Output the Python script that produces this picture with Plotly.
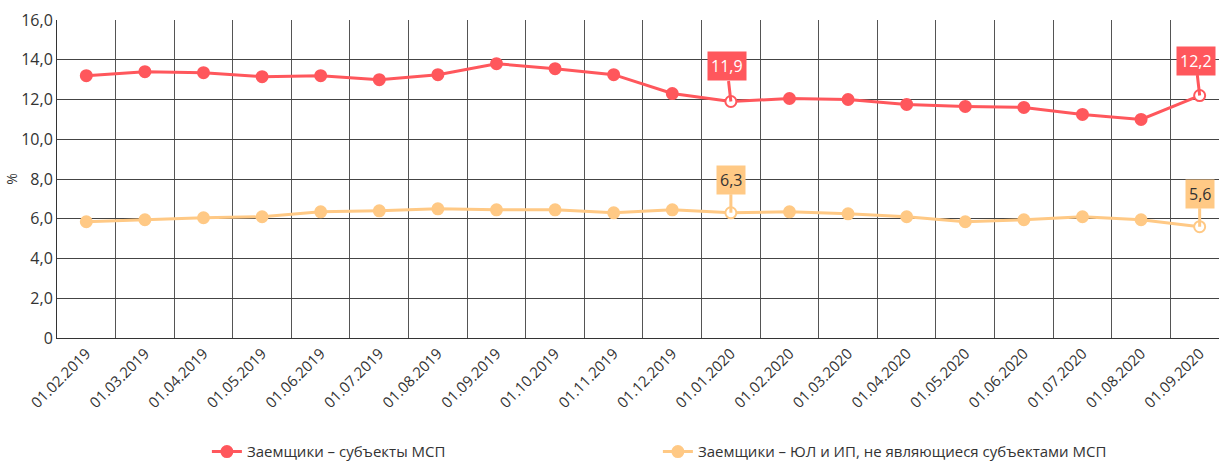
import plotly.graph_objects as go

dates = ["01.02.2019", "01.03.2019", "01.04.2019", "01.05.2019", "01.06.2019", "01.07.2019",
         "01.08.2019", "01.09.2019", "01.10.2019", "01.11.2019", "01.12.2019", "01.01.2020",
         "01.02.2020", "01.03.2020", "01.04.2020", "01.05.2020", "01.06.2020", "01.07.2020",
         "01.08.2020", "01.09.2020"]
msp = [13.2, 13.4, 13.35, 13.15, 13.2, 13.0, 13.25, 13.8, 13.55, 13.25, 12.3, 11.9,
       12.05, 12.0, 11.75, 11.65, 11.6, 11.25, 11.0, 12.2]
non_msp = [5.85, 5.95, 6.05, 6.1, 6.35, 6.4, 6.5, 6.45, 6.45, 6.3, 6.45, 6.3,
           6.35, 6.25, 6.1, 5.85, 5.95, 6.1, 5.95, 5.6]
labelled = [11, 19]
name_msp = "Заемщики – субъекты МСП"
name_non = "Заемщики – ЮЛ и ИП, не являющиеся субъектами МСП"
yticks = [0, 2, 4, 6, 8, 10, 12, 14, 16]
yticktext = ["0", "2,0", "4,0", "6,0", "8,0", "10,0", "12,0", "14,0", "16,0"]

RED = "#FF575C"
YEL = "#FFC985"
x = list(range(len(dates)))

def mcolors(c):
    return ["white" if i in labelled else c for i in x]

fig = go.Figure()
fig.add_trace(go.Scatter(x=x, y=msp, name=name_msp, mode="lines+markers",
                         line=dict(color=RED, width=3),
                         marker=dict(size=11, color=mcolors(RED), line=dict(color=RED, width=2))))
fig.add_trace(go.Scatter(x=x, y=non_msp, name=name_non, mode="lines+markers",
                         line=dict(color=YEL, width=3),
                         marker=dict(size=11, color=mcolors(YEL), line=dict(color=YEL, width=2))))

def fmt(v):
    return f"{v:.1f}".replace(".", ",")

for i in labelled:
    fig.add_annotation(x=x[i], y=msp[i], text=fmt(msp[i]), showarrow=True, arrowhead=0,
                       arrowwidth=3, arrowcolor=RED, ax=-4, ay=-35, bgcolor=RED,
                       font=dict(color="white", size=16), borderpad=3)
    fig.add_annotation(x=x[i], y=non_msp[i], text=fmt(non_msp[i]), showarrow=True, arrowhead=0,
                       arrowwidth=3, arrowcolor=YEL, ax=0, ay=-33, bgcolor=YEL,
                       font=dict(color="#333333", size=16), borderpad=3)

fig.update_layout(
    width=1219, height=462,
    margin=dict(l=57, r=0, t=20, b=124, autoexpand=False),
    paper_bgcolor="white", plot_bgcolor="white",
    font=dict(family="Open Sans", size=15, color="#333333"),
    showlegend=True,
    legend=dict(orientation="h", x=0.129, y=-0.358, xanchor="left", yanchor="middle",
                entrywidth=406, font=dict(size=15, color="#333333")),
    xaxis=dict(range=[-0.5, 19.33], tickmode="array", tickvals=x, ticktext=dates,
               tickangle=-45, showgrid=False, zeroline=False, automargin=False,
               showline=True, linecolor="#333333", linewidth=1, ticks="",
               tickfont=dict(size=15),
               minor=dict(tick0=-0.5, dtick=1, showgrid=True, gridcolor="#555555", gridwidth=1),
               fixedrange=True),
    yaxis=dict(range=[0, 16], tickmode="array", tickvals=yticks, ticktext=yticktext,
               showgrid=True, gridcolor="#444444", gridwidth=1, zeroline=False, automargin=False,
               showline=True, linecolor="#333333", linewidth=1, ticks="",
               tickfont=dict(size=16),
               title=dict(text="%", standoff=0, font=dict(size=14)), fixedrange=True),
)

fig.write_html("out.html", config={"displayModeBar": False},
               post_script="document.body.style.margin='0';document.body.style.overflow='hidden';")
